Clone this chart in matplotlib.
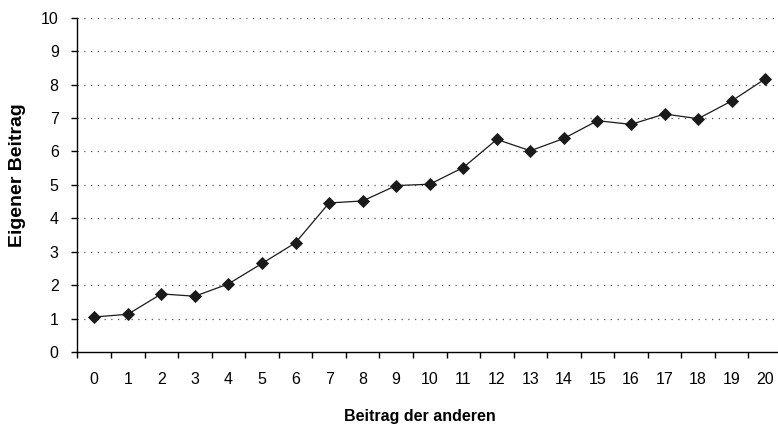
import matplotlib
matplotlib.use("Agg")
import matplotlib.pyplot as plt
import numpy as np

# Beitrag der anderen (0..20) vs. eigener Beitrag
beitrag_andere = list(range(21))
eigener_beitrag = [1.05, 1.13, 1.74, 1.67, 2.04, 2.65, 3.27, 4.46, 4.52, 4.98, 5.02,
                   5.52, 6.36, 6.02, 6.39, 6.92, 6.81, 7.12, 6.98, 7.51, 8.17]
y_ticks = list(range(0, 11))

plt.rcParams['font.family'] = ['Liberation Sans', 'DejaVu Sans']

fig = plt.figure(figsize=(7.78, 4.32), dpi=100)
ax = fig.add_axes([0.0996, 0.185, 0.9055, 0.774])

x = np.arange(len(beitrag_andere))
ax.plot(x, eigener_beitrag, color='#1a1a1a', linewidth=0.9, marker='D',
        markersize=6.4, markeredgewidth=0.6, markerfacecolor='#1a1a1a',
        markeredgecolor='#1a1a1a', zorder=3)

ax.set_xlim(-0.5, len(beitrag_andere) - 0.5)
ax.set_ylim(0, 10)
ax.set_yticks(y_ticks)
ax.set_yticklabels([str(v) for v in y_ticks], fontsize=11.5)

# category labels centred, tick marks on the boundaries
ax.set_xticks(x)
ax.set_xticklabels([str(v) for v in beitrag_andere], fontsize=11.5)
ax.set_xticks(np.arange(-0.5, len(beitrag_andere)), minor=True)
ax.tick_params(axis='x', which='major', length=0, pad=14)
ax.tick_params(axis='x', which='minor', length=4.5, width=1, direction='out')
ax.tick_params(axis='y', which='major', length=4.5, width=1, direction='out', pad=9)

for v in y_ticks[1:]:
    ax.axhline(v, color='#555555', linestyle=(0, (1, 4.4)), linewidth=0.9, zorder=1)

for s in ['top', 'right']:
    ax.spines[s].set_visible(False)
ax.spines['left'].set_linewidth(1.0)
ax.spines['bottom'].set_linewidth(1.0)

fig.text(0.54, 0.036, 'Beitrag der anderen', ha='center', va='center',
         fontsize=11.5, fontweight='bold')
fig.text(0.022, 0.594, 'Eigener Beitrag', ha='center', va='center',
         rotation=90, fontsize=14, fontweight='bold')

fig.savefig('out.png', dpi=100)
